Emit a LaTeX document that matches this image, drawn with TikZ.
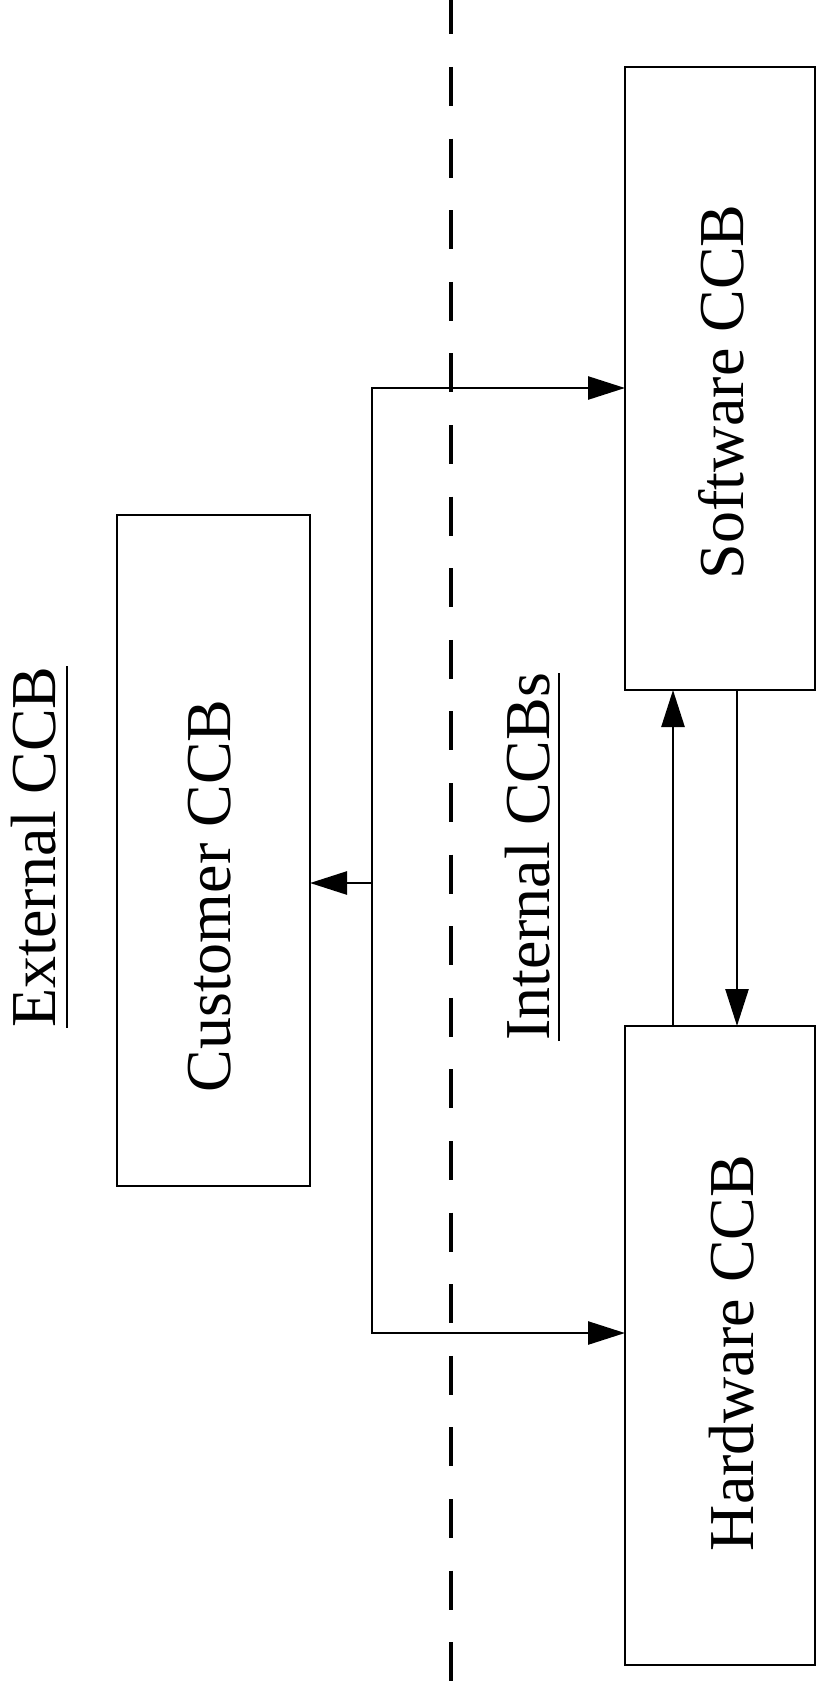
\documentclass[tikz,border=0pt]{standalone}
\usepackage{fontspec}
\setmainfont{Liberation Serif}
\usetikzlibrary{arrows.meta}
\begin{document}
\begin{tikzpicture}[x=1pt,y=1pt,
  box/.style={draw, line width=2.4pt, outer sep=0pt, inner sep=0pt},
  conn/.style={line width=2.6pt, line join=miter},
  arr/.style={conn, -{Triangle[length=37pt,width=23pt]}},
  lbl/.style={rotate=90, anchor=base, inner sep=0pt, font=\fontsize{64}{70}\selectfont},
  uline/.style={line width=2.4pt},
  divider/.style={line width=4.4pt, dash pattern=on 39pt off 32.6pt, dash phase=4.6pt}
]
\useasboundingbox (0,0) rectangle (817,-1691);
\fill[white] (0,0) rectangle (817,-1691);

% boundary between external and internal boards
\coordinate (dtop) at (451,0);
\coordinate (dbot) at (451,-1691);
\draw[divider] (dtop) -- (dbot);

% boards
\node[box, minimum width=193pt, minimum height=671pt] (cust) at (213.5,-850.5) {};
\node[box, minimum width=190pt, minimum height=623pt] (sw) at (720,-378.5) {};
\node[box, minimum width=190pt, minimum height=639pt] (hw) at (720,-1345.5) {};

% labels
\node[lbl] (ext) at (55,-847) {External CCB};
\node[lbl] (int) at (549,-857) {Internal CCBs};
\node[lbl] (custtxt) at (230,-896) {Customer CCB};
\node[lbl] (swtxt) at (743,-392) {Software CCB};
\node[lbl] (hwtxt) at (753,-1353) {Hardware CCB};

\draw[uline] ([xshift=12pt]ext.base west) -- ([xshift=12pt]ext.base east);
\draw[uline] ([xshift=10pt]int.base west) -- ([xshift=10pt]int.base east);

% distribution from the customer board
\coordinate (jS) at (372,-388);
\coordinate (jC) at (372,-883);
\coordinate (jH) at (372,-1333);
\draw[arr] (jH) -- (jS) -- (sw.west |- jS);
\draw[arr] (jS) -- (jH) -- (hw.west |- jH);
\draw[arr] (jC) -- (cust.east |- jC);

% exchange between software and hardware boards
\coordinate (upx) at (673,0);
\coordinate (dnx) at (737,0);
\draw[arr] (upx |- hw.north) -- (upx |- sw.south);
\draw[arr] (dnx |- sw.south) -- (dnx |- hw.north);
\end{tikzpicture}
\end{document}
